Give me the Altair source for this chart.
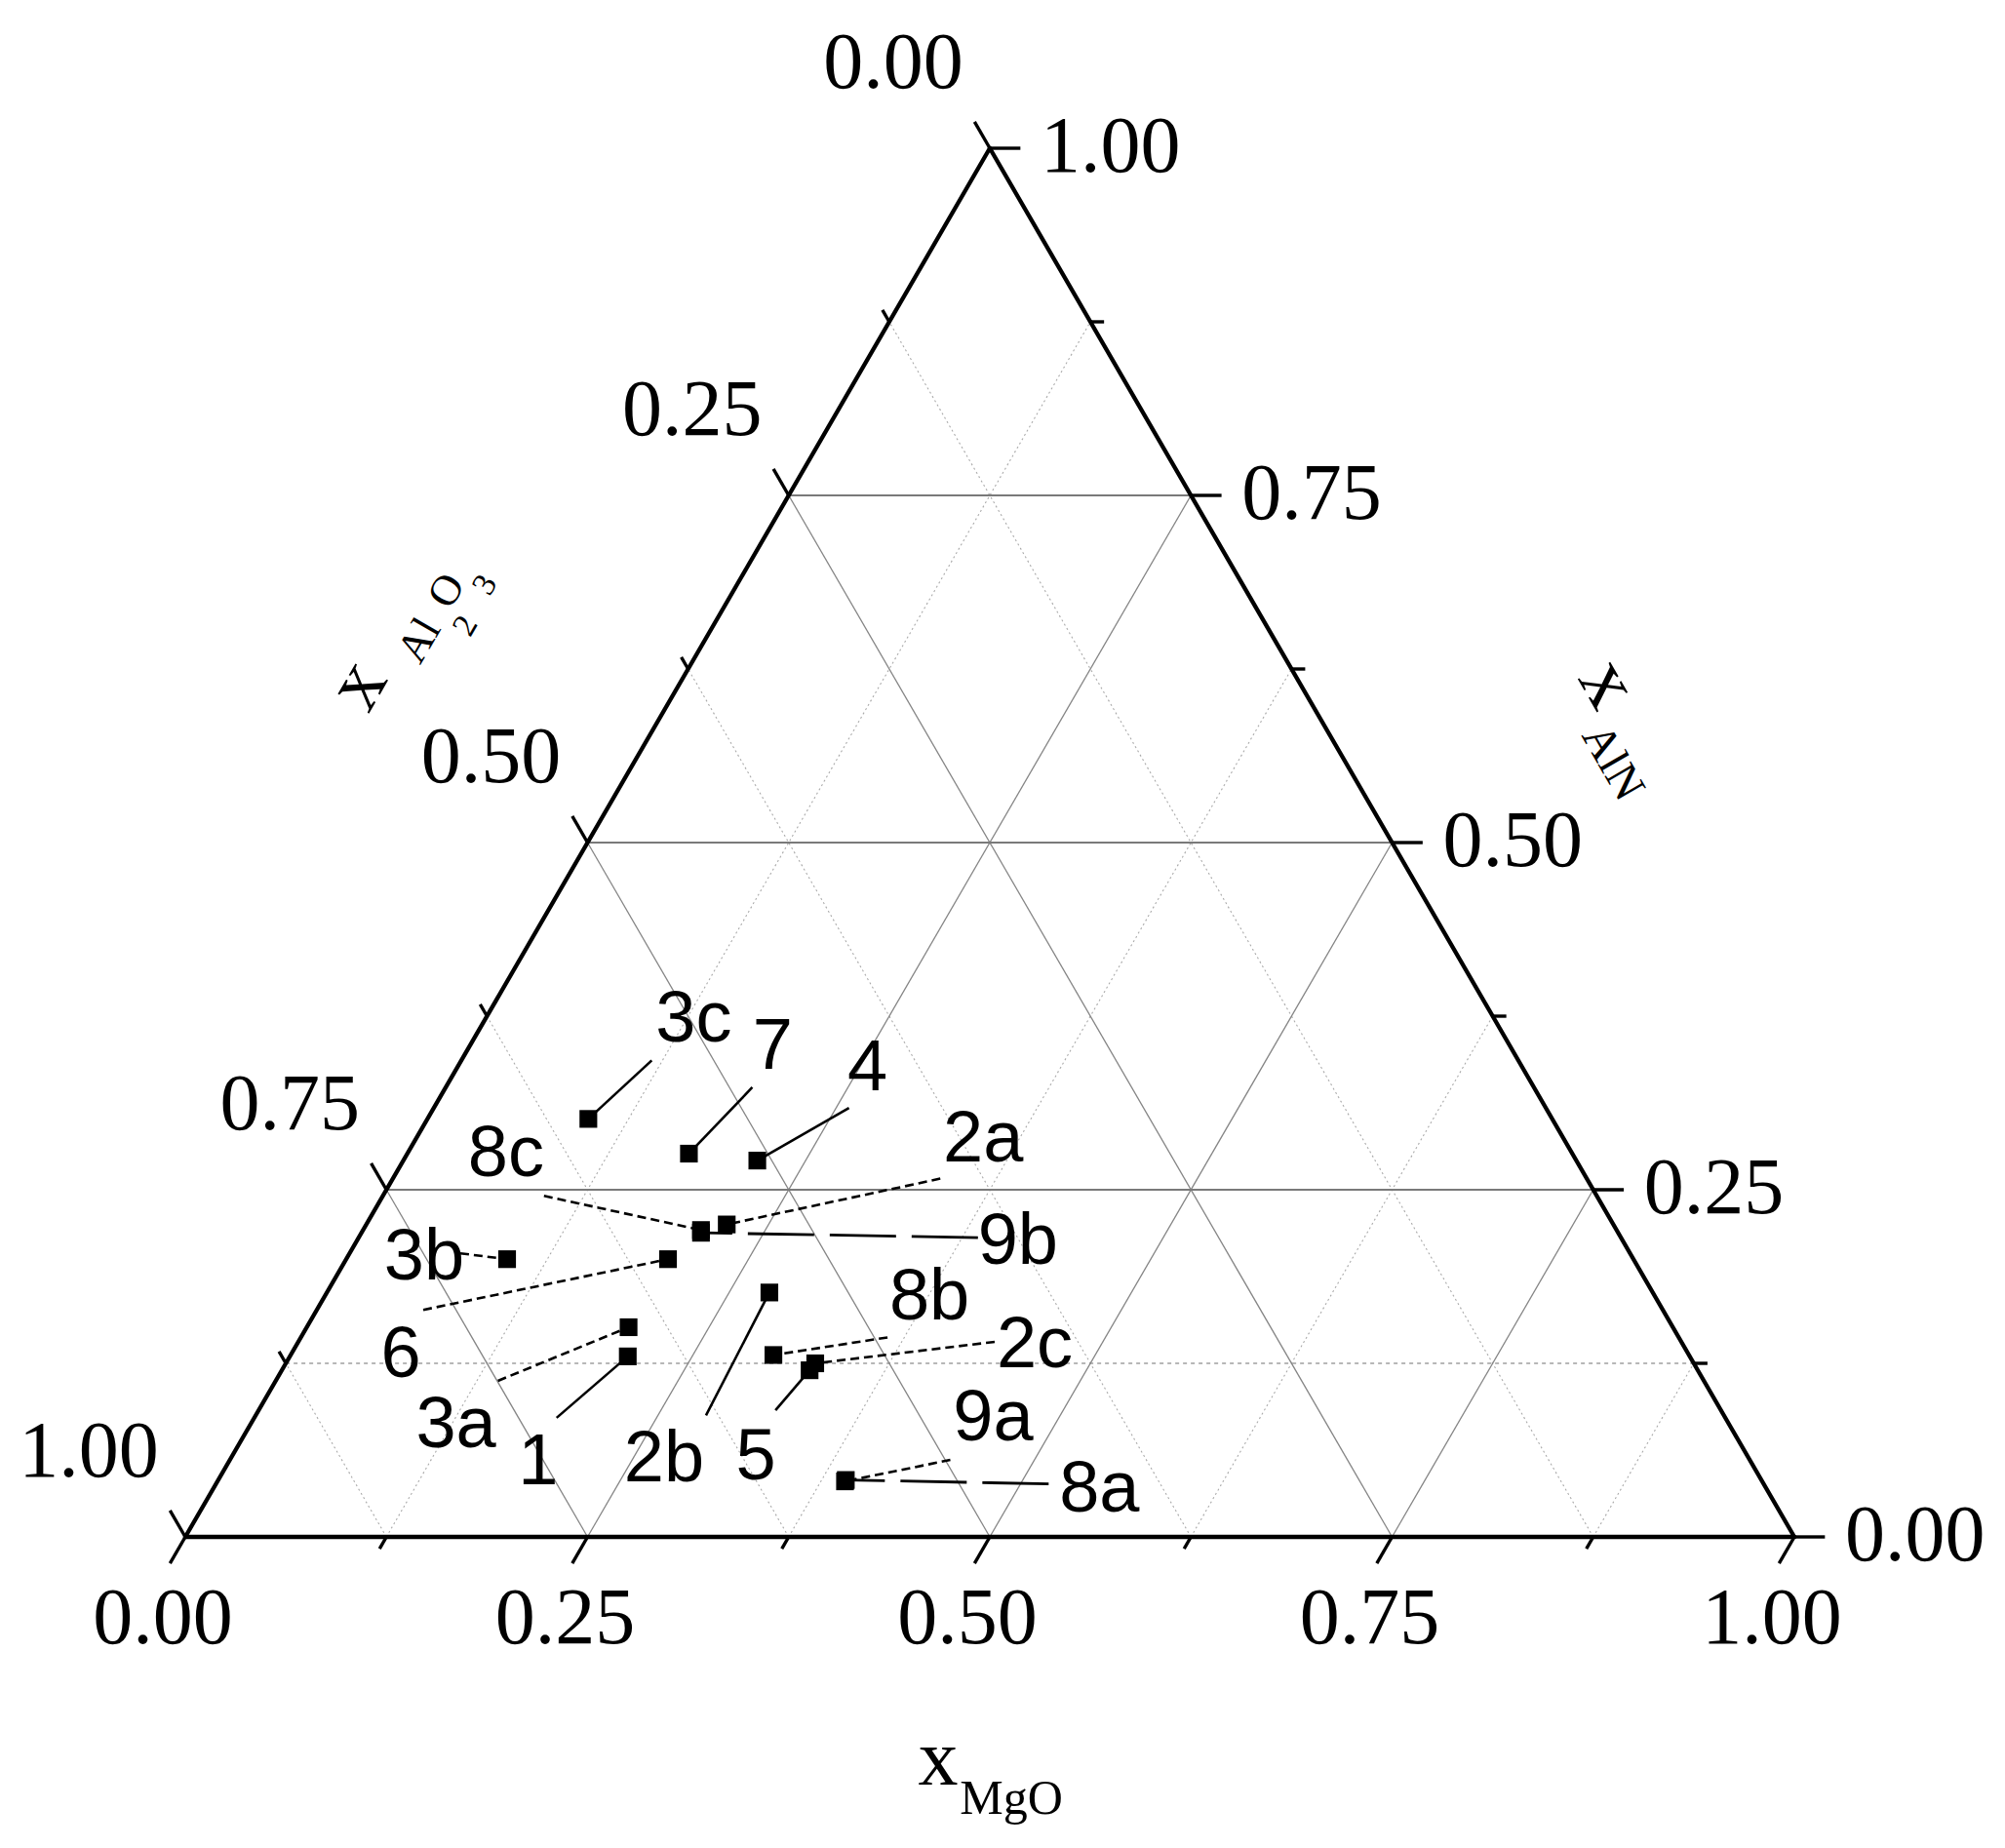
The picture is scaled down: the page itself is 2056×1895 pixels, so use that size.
import altair as alt
import pandas as pd

# ---------------- data ----------------
samples = ["1", "2a", "2b", "2c", "3a", "3b", "3c", "4", "5", "6", "7",
           "8a", "8b", "8c", "9a", "9b"]
x_mgo = [0.210, 0.224, 0.275, 0.329, 0.200, 0.100, 0.100, 0.220, 0.328, 0.200,
         0.175, 0.390, 0.300, 0.210, 0.390, 0.211]
x_aln = [0.130, 0.225, 0.176, 0.125, 0.151, 0.200, 0.301, 0.271, 0.120, 0.200,
         0.276, 0.041, 0.131, 0.221, 0.040, 0.219]
x_al2o3 = [0.660, 0.551, 0.549, 0.546, 0.649, 0.700, 0.599, 0.509, 0.552, 0.600,
           0.549, 0.569, 0.569, 0.569, 0.570, 0.570]

major_ticks = [0.0, 0.25, 0.5, 0.75, 1.0]
minor_ticks = [0.125, 0.375, 0.625, 0.875]
tick_labels = ["0.00", "0.25", "0.50", "0.75", "1.00"]

# ---------------- layout / style (pixels) ----------------
leader_style = {"1": "solid", "2a": "dash", "2b": "solid", "2c": "dash", "3a": "dash",
                "3b": "dash", "3c": "solid", "4": "solid", "5": "solid", "6": "dash",
                "7": "solid", "8a": "long", "8b": "dash", "8c": "dash", "9a": "dash",
                "9b": "long"}
label_off = {"1": (-92, 105), "2a": (263, -91), "2b": (-108, 168), "2c": (225, -22),
             "3a": (-177, 97), "3b": (-85, -5), "3c": (108, -105), "4": (113, -98),
             "5": (-55, 86), "6": (-274, 95), "7": (86, -113), "8a": (260, 6),
             "8b": (160, -62), "8c": (-200, -81), "9a": (152, -68), "9b": (325, 6)}
leader_off = {"1": (-73, 63), "2a": (219, -47), "2b": (-65, 126), "2c": (184, -22),
              "3a": (-134, 55), "3b": (-48, -6), "3c": (65, -60), "4": (94, -54),
              "5": (-35, 41), "6": (-251, 52), "7": (65, -68), "8a": (208, 4),
              "8b": (117, -18), "8c": (-161, -35), "9a": (108, -22), "9b": (284, 5)}

S = 0.8660254
PXX = 1650.0
PXY = 1424.0 / S
L_MAJ = 0.019
L_MIN = 0.0085

xs = alt.Scale(domain=[0, 1], nice=False, zero=False)
ys = alt.Scale(domain=[0, S], nice=False, zero=False)


def seg_chart(df, **mark):
    return alt.Chart(df).transform_calculate(
        x="datum.m1 + datum.a1 / 2",
        y=f"datum.a1 * {S}",
        x2="datum.m2 + datum.a2 / 2",
        y2=f"datum.a2 * {S}",
    ).mark_rule(**mark).encode(
        x=alt.X("x:Q", scale=xs, axis=None),
        y=alt.Y("y:Q", scale=ys, axis=None),
        x2="x2:Q",
        y2="y2:Q",
    )


def lines_for(v, fams):
    rows = []
    if "aln" in fams:
        rows.append({"m1": 0.0, "a1": v, "m2": 1 - v, "a2": v})
    if "mgo" in fams:
        rows.append({"m1": v, "a1": 0.0, "m2": v, "a2": 1 - v})
    if "al2o3" in fams:
        rows.append({"m1": 1 - v, "a1": 0.0, "m2": 0.0, "a2": 1 - v})
    return rows


# grid
minor_rows = []
for v in minor_ticks:
    minor_rows += lines_for(v, ["mgo", "al2o3"])
minor_h = lines_for(minor_ticks[0], ["aln"])
major_d, major_h = [], []
for v in major_ticks[1:-1]:
    major_d += lines_for(v, ["mgo", "al2o3"])
    major_h += lines_for(v, ["aln"])

grid_minor = seg_chart(pd.DataFrame(minor_rows), color="#aaaaaa", strokeWidth=1.1,
                       strokeDash=[2, 3])
grid_minor_h = seg_chart(pd.DataFrame(minor_h), color="#a0a0a0", strokeWidth=1.4,
                         strokeDash=[4, 4])
grid_major_d = seg_chart(pd.DataFrame(major_d), color="#858585", strokeWidth=1.3)
grid_major_h = seg_chart(pd.DataFrame(major_h), color="#7a7a7a", strokeWidth=2.2)

# triangle edges
edges = pd.DataFrame([
    {"m1": 0.0, "a1": 0.0, "m2": 1.0, "a2": 0.0},
    {"m1": 1.0, "a1": 0.0, "m2": 0.0, "a2": 1.0},
    {"m1": 0.0, "a1": 1.0, "m2": 0.0, "a2": 0.0},
])
edge_chart = seg_chart(edges, color="black", strokeWidth=4.3, strokeCap="round")

# ticks
tick_rows = []
for vals, L in ((major_ticks, L_MAJ), (minor_ticks, L_MIN)):
    for v in vals:
        tick_rows.append({"m1": v, "a1": 0.0, "m2": v, "a2": -L})              # MgO (bottom)
        tick_rows.append({"m1": 0.0, "a1": 1 - v, "m2": -L, "a2": 1 - v + L})  # Al2O3 (left)
        tick_rows.append({"m1": 1 - v, "a1": v, "m2": 1 - v + L, "a2": v})     # AlN (right)
tick_chart = seg_chart(pd.DataFrame(tick_rows), color="black", strokeWidth=3.4)

# tick labels
def tick_label_chart(m, a, dx, dy, align):
    df = pd.DataFrame({"m": m, "a": a, "t": tick_labels})
    return alt.Chart(df).transform_calculate(
        x="datum.m + datum.a / 2", y=f"datum.a * {S}"
    ).mark_text(font="Liberation Serif", fontSize=82, color="black",
                align=align, baseline="middle", dx=dx, dy=dy).encode(
        x=alt.X("x:Q", scale=xs, axis=None),
        y=alt.Y("y:Q", scale=ys, axis=None),
        text="t:N",
    )

tl_bottom = tick_label_chart(major_ticks, [0.0] * 5, -23, 84, "center")
tl_right = tick_label_chart([1 - v for v in major_ticks], major_ticks, 52, -1, "left")
tl_left = tick_label_chart([0.0] * 5, [1 - v for v in major_ticks], -99, -87, "center")

# sample points
pts = pd.DataFrame({"name": samples, "mgo": x_mgo, "aln": x_aln, "al2o3": x_al2o3})
pts["style"] = [leader_style[n] for n in samples]
pts["ldx"] = [leader_off[n][0] for n in samples]
pts["ldy"] = [leader_off[n][1] for n in samples]
pts["tdx"] = [label_off[n][0] for n in samples]
pts["tdy"] = [label_off[n][1] for n in samples]

base = alt.Chart(pts).transform_calculate(
    x="datum.mgo + datum.aln / 2",
    y=f"datum.aln * {S}",
).transform_calculate(
    lx=f"datum.x + datum.ldx / {PXX}",
    ly=f"datum.y - datum.ldy / {PXY}",
    tx=f"datum.x + datum.tdx / {PXX}",
    ty=f"datum.y - datum.tdy / {PXY}",
)

def leader(style, dash, width):
    return base.transform_filter(f"datum.style == '{style}'").mark_rule(
        color="black", strokeWidth=width, **({"strokeDash": dash} if dash else {})
    ).encode(
        x=alt.X("lx:Q", scale=xs, axis=None),
        y=alt.Y("ly:Q", scale=ys, axis=None),
        x2="x:Q",
        y2="y:Q",
    )

lead_solid = leader("solid", None, 2.6)
lead_dash = leader("dash", [9, 5], 2.6)
lead_long = leader("long", [68, 16], 2.8)

points = base.mark_point(shape="square", filled=True, size=330, color="black",
                         opacity=1).encode(
    x=alt.X("x:Q", scale=xs, axis=None),
    y=alt.Y("y:Q", scale=ys, axis=None),
)

labels = base.mark_text(font="Liberation Sans", fontSize=74, color="black",
                        align="center", baseline="middle", dy=4).encode(
    x=alt.X("tx:Q", scale=xs, axis=None),
    y=alt.Y("ty:Q", scale=ys, axis=None),
    text="name:N",
)

# axis titles
titles = pd.DataFrame([
    {"t": "x", "m": 0.5, "a": 0.0, "ox": -53, "oy": 229, "fs": 82, "ang": 0},
    {"t": "MgO", "m": 0.5, "a": 0.0, "ox": 22, "oy": 269, "fs": 50, "ang": 0},
    {"t": "x", "m": 0.0, "a": 0.5, "ox": -236, "oy": -162, "fs": 82, "ang": 300},
    {"t": "Al", "m": 0.0, "a": 0.5, "ox": -172, "oy": -207, "fs": 44, "ang": 300},
    {"t": "2", "m": 0.0, "a": 0.5, "ox": -125, "oy": -222, "fs": 34, "ang": 300},
    {"t": "O", "m": 0.0, "a": 0.5, "ox": -144, "oy": -258, "fs": 44, "ang": 300},
    {"t": "3", "m": 0.0, "a": 0.5, "ox": -105, "oy": -264, "fs": 34, "ang": 300},
    {"t": "x", "m": 0.5, "a": 0.5, "ox": 222, "oy": -163, "fs": 82, "ang": 60},
    {"t": "AlN", "m": 0.5, "a": 0.5, "ox": 226, "oy": -82, "fs": 47, "ang": 60},
])
title_chart = alt.Chart(titles).transform_calculate(
    x=f"datum.m + datum.a / 2 + datum.ox / {PXX}",
    y=f"datum.a * {S} - datum.oy / {PXY}",
).mark_text(font="Liberation Serif", color="black", align="center",
            baseline="middle").encode(
    x=alt.X("x:Q", scale=xs, axis=None),
    y=alt.Y("y:Q", scale=ys, axis=None),
    text="t:N",
    size=alt.Size("fs:Q", scale=None, legend=None),
    angle=alt.Angle("ang:Q", scale=None),
)

chart = alt.layer(
    grid_minor, grid_minor_h, grid_major_d, grid_major_h, edge_chart, tick_chart,
    tl_bottom, tl_right, tl_left,
    lead_solid, lead_dash, lead_long, points, labels, title_chart,
).properties(
    width=1650,
    height=1424,
    padding={"left": 182, "top": 144, "right": 200, "bottom": 300},
    autosize=alt.AutoSizeParams(type="none"),
    background="white",
).configure_view(strokeWidth=0)

chart.save("out.html", embed_options={"renderer": "svg", "actions": False})
